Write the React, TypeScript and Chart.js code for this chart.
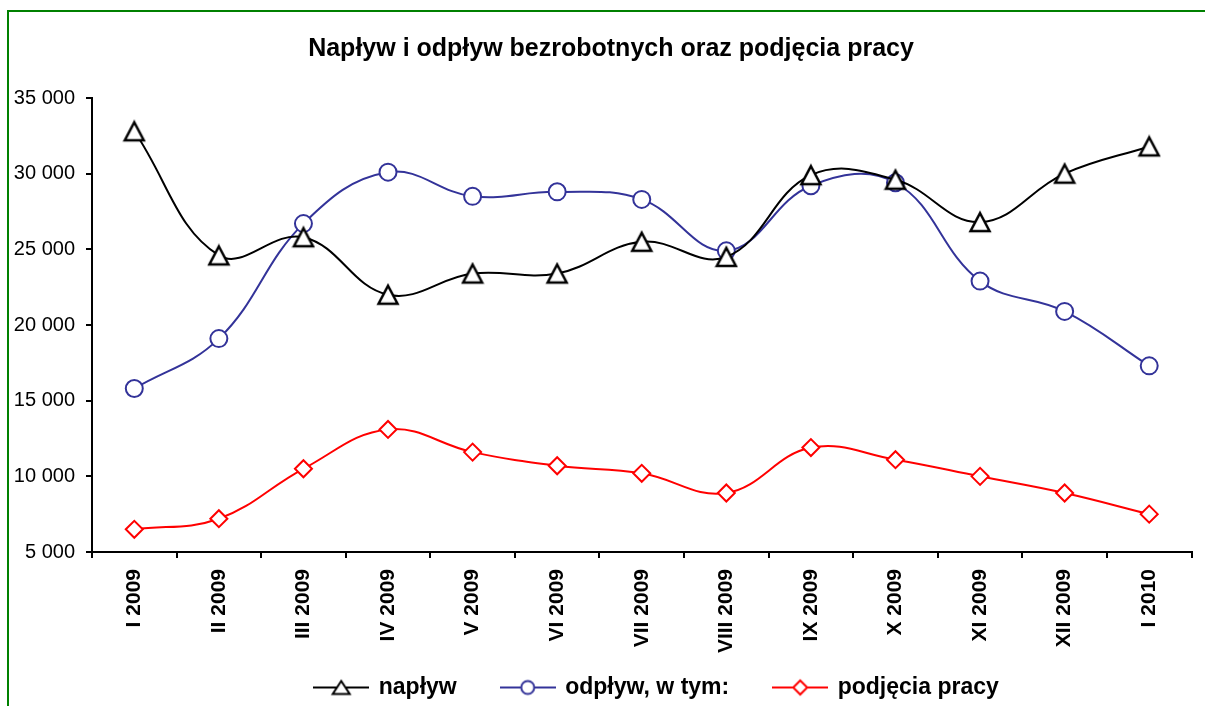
import React, { useEffect, useRef } from 'react';
import { Chart, registerables } from 'chart.js';

Chart.register(...registerables);

const categories = ['I 2009', 'II 2009', 'III 2009', 'IV 2009', 'V 2009', 'VI 2009', 'VII 2009', 'VIII 2009', 'IX 2009', 'X 2009', 'XI 2009', 'XII 2009', 'I 2010'];
const naplyw = [32800, 24600, 25800, 22000, 23400, 23400, 25500, 24500, 29900, 29600, 26800, 30000, 31800];
const odplyw = [15800, 19100, 26700, 30100, 28500, 28800, 28300, 24900, 29200, 29400, 22900, 20900, 17300];
const podjecia = [6500, 7200, 10500, 13100, 11600, 10700, 10200, 8900, 11900, 11100, 10000, 8900, 7500];
const seriesNames = ['napływ', 'odpływ, w tym:', 'podjęcia pracy'];
const chartTitle = 'Napływ i odpływ bezrobotnych oraz podjęcia pracy';
const yMin = 5000;
const yMax = 35000;
const yStep = 5000;

const FONT = "'Liberation Sans', Arial, sans-serif";

function legendImage(color: string, shape: string) {
  const c = document.createElement('canvas');
  c.width = 56;
  c.height = 24;
  const g = c.getContext('2d')!;
  g.strokeStyle = color;
  g.lineWidth = 2;
  g.beginPath();
  g.moveTo(0, 12);
  g.lineTo(56, 12);
  g.stroke();
  g.fillStyle = '#ffffff';
  g.lineWidth = 2;
  g.beginPath();
  if (shape === 'triangle') {
    g.moveTo(28, 5.5);
    g.lineTo(36.5, 18.5);
    g.lineTo(19.5, 18.5);
    g.closePath();
  } else if (shape === 'circle') {
    g.arc(28, 12, 6.5, 0, Math.PI * 2);
  } else {
    g.moveTo(28, 5);
    g.lineTo(35, 12);
    g.lineTo(28, 19);
    g.lineTo(21, 12);
    g.closePath();
  }
  g.fill();
  g.stroke();
  return c;
}

function triangleMarker() {
  const c = document.createElement('canvas');
  c.width = 24;
  c.height = 24;
  const g = c.getContext('2d')!;
  g.fillStyle = '#ffffff';
  g.strokeStyle = '#000000';
  g.lineWidth = 2.5;
  g.lineJoin = 'miter';
  g.beginPath();
  g.moveTo(12, 3);
  g.lineTo(21.5, 21);
  g.lineTo(2.5, 21);
  g.closePath();
  g.fill();
  g.stroke();
  return c;
}

const layoutTweaks = {
  id: 'layoutTweaks',
  afterLayout(chart: any) {
    const l = chart.legend;
    if (l) {
      l.left += 46;
      l.right += 46;
      l.top += 3;
      l.bottom += 3;
    }
    // widen the label clip areas so tick labels are not cut off
    if (chart.scales.y) chart.scales.y.left = 0;
    if (chart.scales.x) chart.scales.x.bottom = chart.height;
  },
};

function fmt(v: number) {
  return String(v).replace(/\B(?=(\d{3})+(?!\d))/g, ' ');
}

export default function App() {
  const ref = useRef<HTMLCanvasElement | null>(null);

  useEffect(() => {
    if (!ref.current) return;
    const colors = ['#000000', '#333399', '#FF0000'];
    const tri = triangleMarker();
    const shapes: any[] = [tri, 'circle', 'rectRot'];
    const imgs = [legendImage(colors[0], 'triangle'), legendImage(colors[1], 'circle'), legendImage(colors[2], 'diamond')];
    const values = [naplyw, odplyw, podjecia];
    const radii = [11, 8.5, 8.5];
    const pbw = [2.5, 2, 2];

    const chart = new Chart(ref.current, {
      type: 'line',
      data: {
        labels: categories,
        datasets: values.map((vals, i) => ({
          label: seriesNames[i],
          data: vals,
          borderColor: colors[i],
          borderWidth: 2,
          backgroundColor: '#ffffff',
          pointStyle: shapes[i],
          pointRadius: radii[i],
          pointBorderWidth: pbw[i],
          pointBackgroundColor: '#ffffff',
          pointBorderColor: colors[i],
          tension: 0.4,
          fill: false,
        })),
      },
      options: {
        responsive: false,
        animation: false,
        devicePixelRatio: 1,
        layout: { padding: { left: 29, right: 12, top: 0, bottom: 0 } },
        plugins: {
          title: {
            display: true,
            text: chartTitle,
            color: '#000000',
            font: { family: FONT, size: 25, weight: 'bold' },
            padding: { top: 34, bottom: 34 },
          },
          legend: {
            display: true,
            position: 'bottom',
            labels: {
              usePointStyle: true,
              pointStyleWidth: 52,
              padding: 45,
              color: '#000000',
              font: { family: FONT, size: 23, weight: 'bold' },
              generateLabels: (ch: any) => {
                const base = (Chart.defaults.plugins.legend.labels as any).generateLabels(ch);
                return base.map((it: any, i: number) => ({ ...it, pointStyle: imgs[i] }));
              },
            },
          },
          tooltip: { enabled: false },
        },
        scales: {
          x: {
            type: 'category',
            offset: true,
            grid: {
              display: true,
              offset: true,
              drawOnChartArea: false,
              drawTicks: true,
              tickLength: 6,
              color: '#000000',
              lineWidth: 2,
            },
            border: { display: true, color: '#000000', width: 2 },
            ticks: {
              autoSkip: false,
              minRotation: 90,
              maxRotation: 90,
              padding: 11,
              color: '#000000',
              font: { family: FONT, size: 21, weight: 'bold' },
            },
            afterFit: (s: any) => {
              s.height = 76;
            },
          },
          y: {
            min: yMin,
            max: yMax,
            ticks: {
              stepSize: yStep,
              padding: 11,
              color: '#000000',
              font: { family: FONT, size: 20 },
              callback: (v: any) => fmt(Number(v)),
            },
            grid: {
              display: true,
              drawOnChartArea: false,
              drawTicks: true,
              tickLength: 6,
              color: '#000000',
              lineWidth: 2,
            },
            border: { display: true, color: '#000000', width: 2 },
            afterFit: (s: any) => {
              s.width = 63;
            },
          },
        },
      },
      plugins: [layoutTweaks],
    });
    return () => chart.destroy();
  }, []);

  return (
    <div style={{ position: 'fixed', left: 0, top: 0, width: 1205, height: 706, overflow: 'hidden', background: '#ffffff' }}>
      <div
        style={{
          position: 'absolute',
          left: 7,
          top: 10,
          width: 1400,
          height: 900,
          border: '2px solid #008000',
          boxSizing: 'border-box',
        }}
      />
      <canvas ref={ref} width={1205} height={706} style={{ position: 'absolute', left: 0, top: 0, width: 1205, height: 706 }} />
    </div>
  );
}
